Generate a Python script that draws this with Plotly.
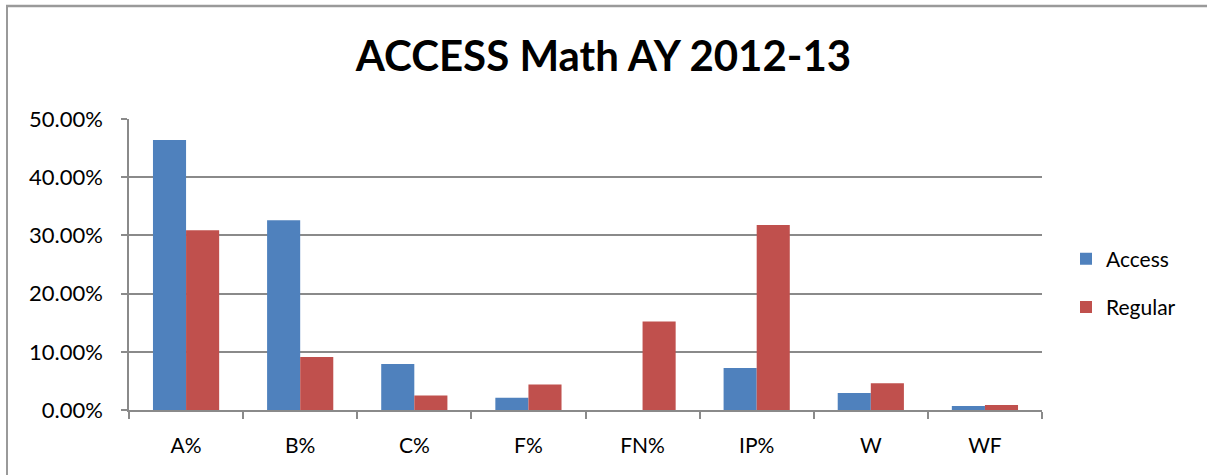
import plotly.graph_objects as go

categories = ["A%", "B%", "C%", "F%", "FN%", "IP%", "W", "WF"]
access = [0.464, 0.326, 0.079, 0.021, 0.0, 0.072, 0.029, 0.007]
regular = [0.309, 0.091, 0.025, 0.044, 0.152, 0.318, 0.046, 0.0085]
y_ticks = [0, 0.1, 0.2, 0.3, 0.4, 0.5]

FONT = "Lato"
GRID = "#8a8a8a"

# plot area in pixels
L, R, T, B = 129, 1042, 119, 410
W, H = 1207, 475

def px_x(p):
    return (p - L) / (R - L)

def px_y(p):
    return (B - p) / (B - T)

fig = go.Figure()
fig.add_trace(go.Bar(name="Access", x=categories, y=access, marker_color="#4F81BD",
                     marker_line_width=0, legendgroup="a"))
fig.add_trace(go.Bar(name="Regular", x=categories, y=regular, marker_color="#C0504D",
                     marker_line_width=0, legendgroup="b"))

fig.update_layout(
    width=W, height=H,
    margin=dict(l=L, r=W - R, t=T, b=H - B, pad=0),
    paper_bgcolor="white", plot_bgcolor="white",
    barmode="group", bargap=0.42, bargroupgap=0,
    font=dict(family=FONT, size=20, color="black"),
    title=dict(text="<b>ACCESS Math AY 2012-13</b>", x=0.5, xanchor="center",
               y=1 - 56 / H, yanchor="middle", font=dict(family=FONT, size=42, color="black")),
    showlegend=True,
    legend=dict(x=px_x(1066), xanchor="left", y=px_y(283), yanchor="middle",
                tracegroupgap=18, traceorder="grouped", font=dict(size=21),
                bgcolor="rgba(0,0,0,0)"),
    xaxis=dict(showline=True, linecolor=GRID, linewidth=1.5, ticks="outside", ticklen=7,
               tickcolor=GRID, tickwidth=1.5, tickson="boundaries", showgrid=False,
               tickfont=dict(size=21), ticklabelstandoff=16),
    yaxis=dict(range=[0, 0.5], tickvals=y_ticks, tickformat=".2%", showline=True,
               linecolor=GRID, linewidth=1.5, ticks="outside", ticklen=6, tickcolor=GRID,
               tickwidth=1.5, showgrid=True, gridcolor=GRID, gridwidth=1.5,
               zeroline=False, tickfont=dict(size=22), ticklabelstandoff=14),
    shapes=[
        dict(type="line", xref="paper", yref="paper", x0=px_x(6), x1=px_x(1215),
             y0=px_y(6), y1=px_y(6), line=dict(color="#9a9a9a", width=2.5), layer="above"),
        dict(type="line", xref="paper", yref="paper", x0=px_x(7), x1=px_x(7),
             y0=px_y(5), y1=px_y(490), line=dict(color="#9a9a9a", width=2), layer="above"),
    ],
)

fig.write_html(
    "out.html",
    config={"displayModeBar": False},
    post_script="document.body.style.margin='0';document.body.style.overflow='hidden';",
)
